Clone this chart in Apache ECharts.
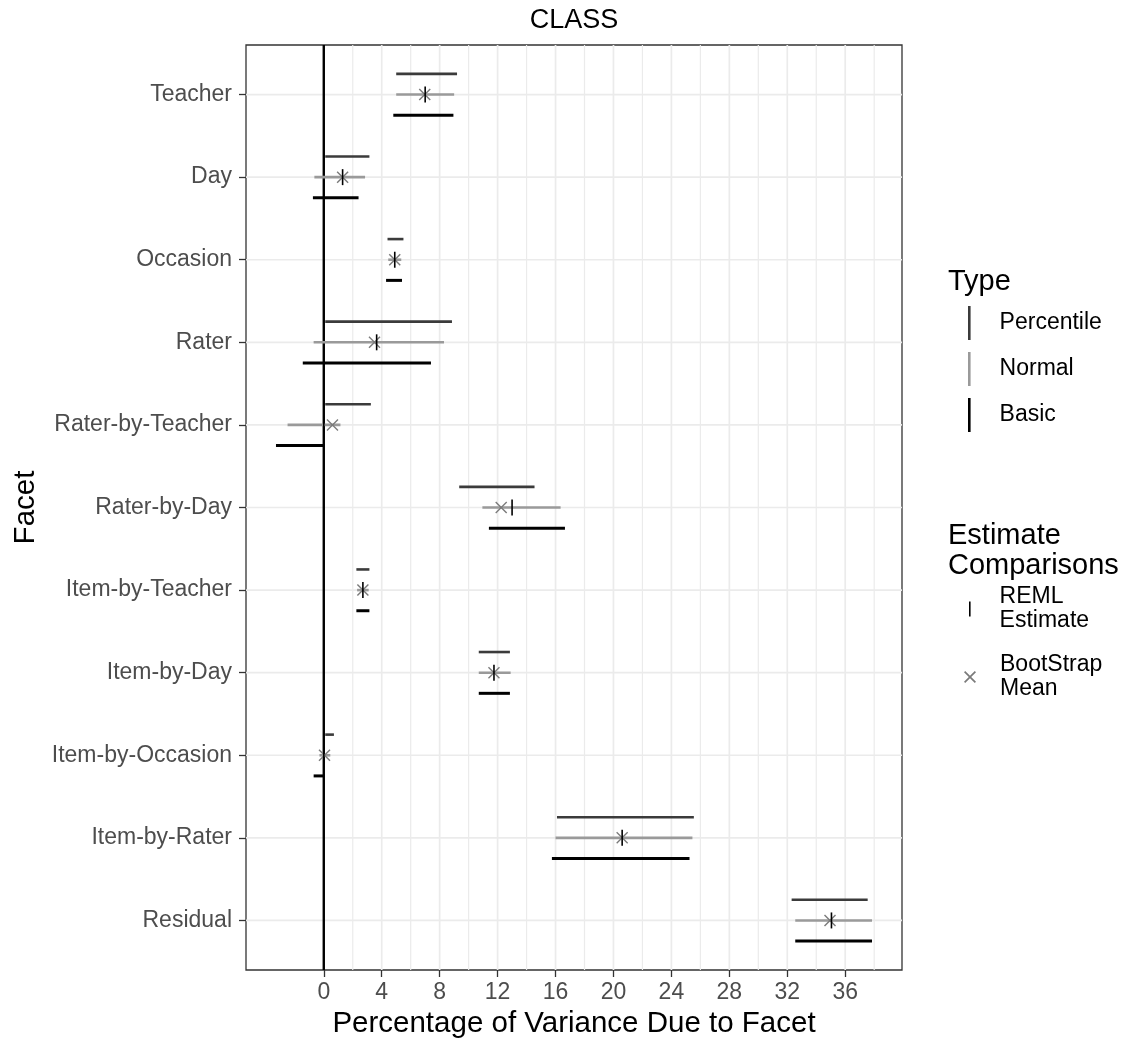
<!DOCTYPE html>
<html>
<head>
<meta charset="utf-8">
<script src="https://cdn.jsdelivr.net/npm/echarts@6/dist/echarts.min.js"></script>
<style>
  html, body { margin: 0; padding: 0; background: #fff; }
  #chart { width: 1128px; height: 1048px; }
</style>
</head>
<body>
<div id="chart"></div>
<script>
// Variance components (percent of total variance) for the CLASS observation measure
const facets = ['Teacher', 'Day', 'Occasion', 'Rater', 'Rater-by-Teacher', 'Rater-by-Day',
  'Item-by-Teacher', 'Item-by-Day', 'Item-by-Occasion', 'Item-by-Rater', 'Residual'];

// Bootstrap confidence intervals, one pair of arrays per interval type
const percentileLow  = [5.0, 0.1, 4.4, 0.1, 0.1, 9.35, 2.25, 10.7, 0.1, 16.1, 32.3];
const percentileHigh = [9.2, 3.15, 5.5, 8.85, 3.25, 14.55, 3.15, 12.85, 0.7, 25.55, 37.55];
const normalLow      = [5.0, -0.65, 4.45, -0.7, -2.5, 10.95, 2.3, 10.7, -0.3, 16.0, 32.55];
const normalHigh     = [9.0, 2.85, 5.35, 8.3, 1.15, 16.35, 3.1, 12.9, 0.45, 25.45, 37.85];
const basicLow       = [4.8, -0.75, 4.3, -1.45, -3.3, 11.4, 2.25, 10.7, -0.7, 15.75, 32.55];
const basicHigh      = [8.95, 2.4, 5.4, 7.4, -0.05, 16.65, 3.15, 12.85, -0.05, 25.25, 37.85];

// Point estimates
const remlEstimate  = [7.0, 1.3, 4.9, 3.65, 0.0, 13.0, 2.7, 11.75, 0.0, 20.6, 35.05];
const bootstrapMean = [6.97, 1.3, 4.9, 3.5, 0.6, 12.25, 2.7, 11.75, 0.05, 20.6, 34.95];

// Axis breaks
const xTicks = [0, 4, 8, 12, 16, 20, 24, 28, 32, 36];
const xMinorGrid = [2, 6, 10, 14, 18, 22, 26, 30, 34, 38];

const X_MIN = -5.37, X_MAX = 39.92;
const Y_MIN = -0.6, Y_MAX = 10.6;
const FONT = '"Liberation Sans", Arial, sans-serif';
const GRID_COLOR = '#ebebeb';

const chart = echarts.init(document.getElementById('chart'), null, { renderer: 'canvas' });

function lineEl(a, b, color, width) {
  return { type: 'line', shape: { x1: a[0], y1: a[1], x2: b[0], y2: b[1] },
    style: { stroke: color, lineWidth: width } };
}

function verticalRuleSeries(values, color, width, z) {
  return {
    type: 'custom', coordinateSystem: 'cartesian2d', silent: true, z: z,
    data: values.map(v => [v, 0]),
    renderItem(params, api) {
      const v = api.value(0);
      return lineEl(api.coord([v, Y_MIN]), api.coord([v, Y_MAX]), color, width);
    }
  };
}

function horizontalRuleSeries() {
  return {
    type: 'custom', coordinateSystem: 'cartesian2d', silent: true, z: 1,
    data: facets.map((f, i) => [0, i]),
    renderItem(params, api) {
      const i = api.value(1);
      return lineEl(api.coord([X_MIN, i]), api.coord([X_MAX, i]), GRID_COLOR, 1.7);
    }
  };
}

function intervalSeries(name, lows, highs, offset, color, width) {
  return {
    name: name, type: 'custom', coordinateSystem: 'cartesian2d', z: 3,
    itemStyle: { color: color },
    encode: { x: [0, 1], y: 2 },
    data: facets.map((f, i) => [lows[i], highs[i], i]),
    renderItem(params, api) {
      const y = api.value(2) + offset;
      return lineEl(api.coord([api.value(0), y]), api.coord([api.value(1), y]), color, width);
    }
  };
}

const series = [
  verticalRuleSeries(xMinorGrid, GRID_COLOR, 1.2, 1),
  verticalRuleSeries(xTicks, GRID_COLOR, 1.7, 1),
  horizontalRuleSeries(),
  verticalRuleSeries([0], '#000', 2.4, 2),
  intervalSeries('Percentile', percentileLow, percentileHigh, -0.25, '#3b3b3b', 2.6),
  intervalSeries('Normal', normalLow, normalHigh, 0, '#9a9a9a', 2.6),
  intervalSeries('Basic', basicLow, basicHigh, 0.25, '#000000', 3.0),
  {
    name: 'BootStrap\nMean', type: 'custom', coordinateSystem: 'cartesian2d', z: 4,
    itemStyle: { color: '#7a7a7a' },
    encode: { x: 0, y: 1 },
    data: facets.map((f, i) => [bootstrapMean[i], i]),
    renderItem(params, api) {
      const c = api.coord([api.value(0), api.value(1)]);
      const r = 5.5;
      return { type: 'group', children: [
        lineEl([c[0] - r, c[1] - r], [c[0] + r, c[1] + r], '#7a7a7a', 1.4),
        lineEl([c[0] - r, c[1] + r], [c[0] + r, c[1] - r], '#7a7a7a', 1.4)
      ] };
    }
  },
  {
    name: 'REML\nEstimate', type: 'custom', coordinateSystem: 'cartesian2d', z: 5,
    itemStyle: { color: '#000' },
    encode: { x: 0, y: 1 },
    data: facets.map((f, i) => [remlEstimate[i], i]),
    renderItem(params, api) {
      const c = api.coord([api.value(0), api.value(1)]);
      return lineEl([c[0], c[1] - 8], [c[0], c[1] + 8], '#000', 1.6);
    }
  }
];

const legendText = { fontFamily: FONT, fontSize: 23, color: '#000' };

const option = {
  animation: false,
  backgroundColor: '#fff',
  textStyle: { fontFamily: FONT },
  grid: {
    left: 246, top: 45, width: 656, height: 925,
    show: true, borderColor: '#333', borderWidth: 1.3, backgroundColor: '#fff'
  },
  xAxis: {
    type: 'value', min: X_MIN, max: X_MAX,
    name: 'Percentage of Variance Due to Facet', nameLocation: 'middle', nameGap: 36,
    nameTextStyle: { fontFamily: FONT, fontSize: 29.5, color: '#000' },
    axisLine: { show: false, onZero: false },
    splitLine: { show: false },
    axisTick: { show: true, customValues: xTicks, length: 7, lineStyle: { color: '#333', width: 1.3 } },
    axisLabel: { customValues: xTicks, fontFamily: FONT, fontSize: 23, color: '#4d4d4d', margin: 11 }
  },
  yAxis: {
    type: 'value', min: Y_MIN, max: Y_MAX, inverse: true,
    name: 'Facet', nameLocation: 'middle', nameGap: 204, nameRotate: 90,
    nameTextStyle: { fontFamily: FONT, fontSize: 29.5, color: '#000' },
    axisLine: { show: false, onZero: false },
    splitLine: { show: false },
    axisTick: { show: true, customValues: facets.map((f, i) => i), length: 7, lineStyle: { color: '#333', width: 1.3 } },
    axisLabel: {
      customValues: facets.map((f, i) => i), fontFamily: FONT, fontSize: 23, color: '#4d4d4d', margin: 14,
      formatter: v => facets[Math.round(v)]
    }
  },
  legend: [
    {
      data: [
        { name: 'Percentile', itemStyle: { color: '#3b3b3b' } },
        { name: 'Normal', itemStyle: { color: '#9a9a9a' } },
        { name: 'Basic', itemStyle: { color: '#000' } }
      ],
      orient: 'vertical', left: 968, top: 306, padding: 0,
      icon: 'rect', itemWidth: 2.6, itemHeight: 34, itemGap: 12,
      selectedMode: false,
      textStyle: Object.assign({ padding: [0, 0, 0, 24] }, legendText)
    },
    {
      data: [{ name: 'REML\nEstimate', itemStyle: { color: '#000' } }],
      orient: 'vertical', left: 969, top: 585, padding: 0,
      icon: 'rect', itemWidth: 1.6, itemHeight: 15,
      selectedMode: false,
      textStyle: Object.assign({ padding: [0, 0, 0, 24], lineHeight: 24 }, legendText)
    },
    {
      data: [{ name: 'BootStrap\nMean', itemStyle: { color: '#7a7a7a' } }],
      orient: 'vertical', left: 964, top: 653, padding: 0,
      icon: 'path://M1,0 L5,4 L9,0 L10,1 L6,5 L10,9 L9,10 L5,6 L1,10 L0,9 L4,5 L0,1 Z',
      itemWidth: 12, itemHeight: 12,
      selectedMode: false,
      textStyle: Object.assign({ padding: [0, 0, 0, 19], lineHeight: 24 }, legendText)
    }
  ],
  graphic: [
    { type: 'text', x: 574, y: 7, style: { text: 'CLASS', font: '27px ' + FONT, fill: '#000', textAlign: 'center' } },
    { type: 'text', x: 948, y: 267, style: { text: 'Type', font: '29px ' + FONT, fill: '#000' } },
    { type: 'text', x: 948, y: 521, style: { text: 'Estimate\nComparisons', font: '29px ' + FONT, fill: '#000', lineHeight: 30 } }
  ],
  series: series
};

chart.setOption(option);
</script>
</body>
</html>
